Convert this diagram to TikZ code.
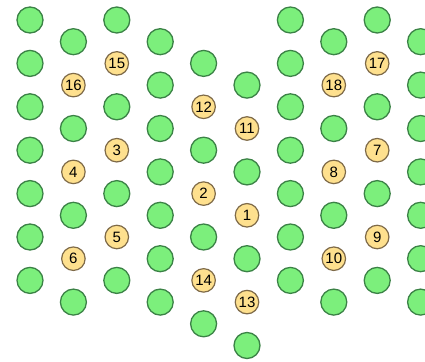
\documentclass[tikz,border=0pt]{standalone}
\usepackage{fontspec}
\setmainfont{Liberation Sans}
\usepackage{tikz}
\usetikzlibrary{positioning}

\definecolor{seatgreen}{HTML}{7CEF7C}
\definecolor{seatgreenline}{HTML}{3B8246}
\definecolor{seatyellow}{HTML}{FEE08E}
\definecolor{seatyellowline}{HTML}{7E6A48}

\begin{document}
\begin{tikzpicture}[x=1pt, y=-1pt,
    free/.style={circle, draw=seatgreenline, line width=1.3pt, fill=seatgreen,
        minimum size=26pt, inner sep=0pt},
    taken/.style={circle, draw=seatyellowline, line width=1.2pt, fill=seatyellow,
        minimum size=23.5pt, inner sep=0pt, font=\fontsize{15}{16}\selectfont}]
    \fill[white] (0,0) rectangle (425,361);
    \useasboundingbox (0,0) rectangle (425,361);
    % column / start offset (half rows) / seats, 0 = free
    \foreach \c/\s/\seats in {
        1/0/{0,0,0,0,0,0,0},
        2/1/{0,16,0,4,0,6,0},
        3/0/{0,15,0,3,0,5,0},
        4/1/{0,0,0,0,0,0,0},
        5/2/{0,12,0,2,0,14,0},
        6/3/{0,11,0,1,0,13,0},
        7/0/{0,0,0,0,0,0,0},
        8/1/{0,18,0,8,0,10,0},
        9/0/{0,17,0,7,0,9,0},
        10/1/{0,0,0,0,0,0,0}}{
        \foreach \n [count=\k] in \seats {
            \pgfmathsetmacro{\px}{30 + (\c-1)*43.4}
            \pgfmathsetmacro{\py}{20 + (\s + 2*(\k-1))*21.7}
            \ifnum\n=0
                \node[free] (s-\c-\k) at (\px,\py) {};
            \else
                \node[taken] (s-\c-\k) at (\px,\py) {\n};
            \fi
        }
    }
\end{tikzpicture}
\end{document}
